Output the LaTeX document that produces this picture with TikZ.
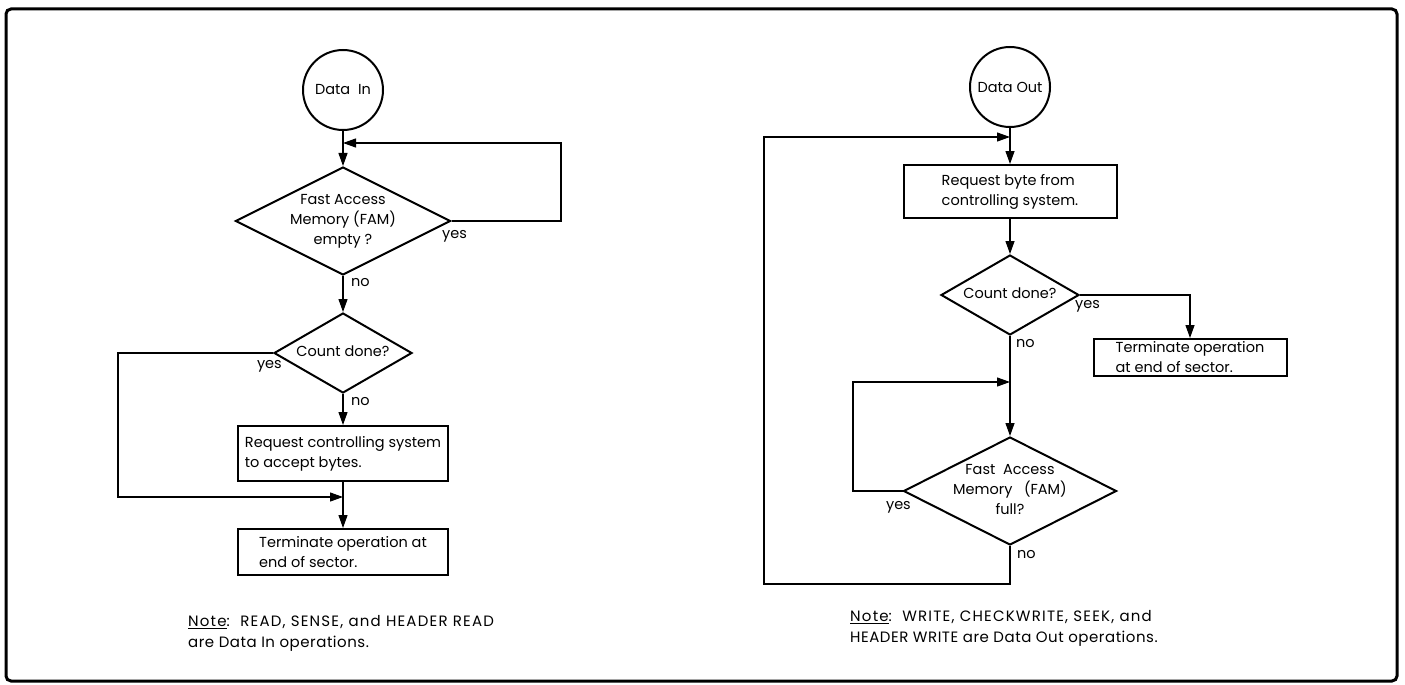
\documentclass[tikz,border=0pt]{standalone}
\usepackage{fontspec}
\setmainfont{Poppins}
\usetikzlibrary{shapes.geometric,arrows.meta}

% text inside a decision box, kept out of the shape size
\newcommand{\dtext}[1]{\makebox[0pt]{\raisebox{-3.5pt}[0pt][0pt]{\begin{tabular}{@{}c@{}}#1\end{tabular}}}}
% wider set text of the notes
\newcommand{\notefont}{\fontsize{15}{21}\selectfont\addfontfeature{LetterSpace=8}}
\newcommand{\notetail}{\addfontfeature{LetterSpace=3.5}}

\begin{document}
\begin{tikzpicture}[x=1pt, y=-1pt, font=\fontsize{14.5}{20}\selectfont]
% Define styles
\tikzstyle{terminal} = [circle, draw=black, line width=2pt, minimum size=80pt, inner sep=0pt]
\tikzstyle{decision} = [diamond, draw=black, line width=2pt, inner sep=0pt]
\tikzstyle{process} = [rectangle, draw=black, line width=2pt, align=left, inner sep=0pt]
\tikzstyle{answer} = [inner sep=0pt]
\tikzstyle{arrow} = [line width=1.2pt, -{Triangle[length=13pt,width=9pt]}]

% Frame
\useasboundingbox (0,0) rectangle (1405,685);
\draw [line width=3pt, rounded corners=5pt] (6,9) rectangle (1397,681);

% Place nodes: Data In
\node [terminal] (datain) at (343,90) {Data\ \ In};
\node [decision, minimum width=215pt, minimum height=108pt] (empty) at (343,221) {\dtext{Fast Access\\Memory (FAM)\\empty ?}};
\node [decision, minimum width=138pt, minimum height=80pt] (countin) at (343,353) {\dtext{Count done?}};
\node [process, minimum width=210pt, minimum height=55pt] (accept) at (343,453.5) {Request controlling system\\to accept bytes.};
\node [process, minimum width=210pt, minimum height=46pt] (termin) at (343,552) {Terminate operation at\\end of sector.};
\node [answer, anchor=west] (emptyyes) at (442,236) {yes};
\node [answer, anchor=west] (emptyno) at (351,283) {no};
\node [answer, anchor=east] (countinyes) at (282,366) {yes};
\node [answer, anchor=west] (countinno) at (351,402) {no};
\node [answer, anchor=north west, align=left, font=\notefont] (notein) at (188,615) {\underline{Note}:\ \ READ, SENSE, and HEADER READ\\{\notetail are Data In operations.}};
\coordinate (joinempty) at (343,143);
\coordinate (emptyloop) at (561,143);
\coordinate (joinaccept) at (343,497);
\coordinate (countloop) at (118,497);

% Place nodes: Data Out
\node [terminal] (dataout) at (1010,87) {Data Out};
\node [process, minimum width=213pt, minimum height=53pt] (request) at (1010,191.5) {Request byte from\\controlling system.};
\node [decision, minimum width=138pt, minimum height=80pt] (countout) at (1010,295) {\dtext{Count done?}};
\node [process, minimum width=193pt, minimum height=37pt] (termout) at (1190,357.5) {Terminate operation\\at end of sector.};
\node [decision, minimum width=213pt, minimum height=108pt] (full) at (1010,491) {\dtext{Fast\ \ Access\\Memory\ \ \ (FAM)\\full?}};
\node [answer, anchor=west] (countoutyes) at (1075,306) {yes};
\node [answer, anchor=west] (countoutno) at (1016,344) {no};
\node [answer, anchor=east] (fullyes) at (911,507) {yes};
\node [answer, anchor=west] (fullno) at (1017,555) {no};
\node [answer, anchor=north west, align=left, font=\notefont] (noteout) at (850,610) {\underline{Note}:\ \ WRITE, CHECKWRITE, SEEK, and\\{\notetail HEADER WRITE are Data Out operations.}};
\coordinate (joinrequest) at (1010,137);
\coordinate (fullturn) at (1010,584);
\coordinate (outloop) at (764,137);
\coordinate (joinfull) at (1010,382);
\coordinate (fullloop) at (853,382);

% Draw arrows: Data In
\draw [arrow] (datain) -- (empty);
\draw [arrow] (empty.east) -| (emptyloop) -- (joinempty);
\draw [arrow] (empty) -- (countin);
\draw [arrow] (countin) -- (accept);
\draw [arrow] (countin.west) -| (countloop) -- (joinaccept);
\draw [arrow] (accept) -- (termin);

% Draw arrows: Data Out
\draw [arrow] (dataout) -- (request);
\draw [arrow] (request) -- (countout);
\draw [arrow] (countout.east) -| (termout);
\draw [arrow] (countout) -- (full);
\draw [arrow] (full.west) -| (fullloop) -- (joinfull);
\draw [arrow] (full.south) -- (fullturn) -| (outloop) -- (joinrequest);
\end{tikzpicture}
\end{document}
